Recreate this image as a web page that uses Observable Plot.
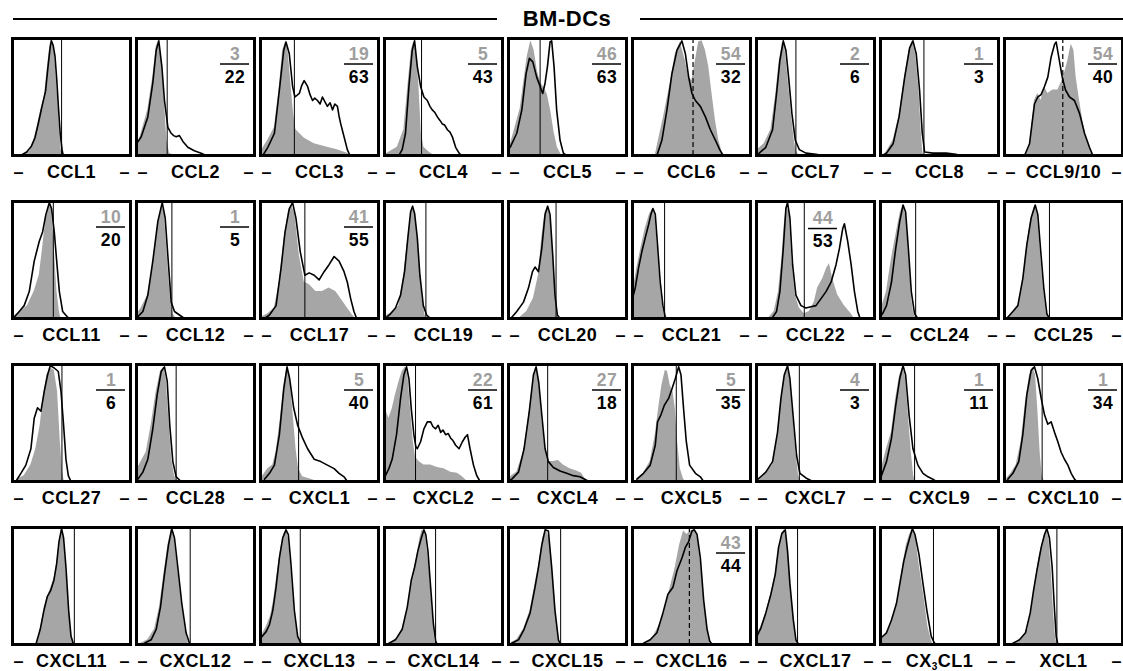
<!DOCTYPE html>
<html><head><meta charset="utf-8">
<script src="https://cdn.jsdelivr.net/npm/d3@7"></script>
<script src="https://cdn.jsdelivr.net/npm/@observablehq/plot@0.6"></script>
<style>
body{margin:0;background:#fff;font-family:"Liberation Sans",Arial,sans-serif;}
#wrap{position:relative;width:1123px;height:671px;overflow:hidden;background:#fff;}
.tl{position:absolute;top:18px;height:2px;background:#000;}
#ttext{position:absolute;top:8px;left:467px;width:200px;text-align:center;font-weight:bold;font-size:22px;line-height:22px;letter-spacing:0.5px;}
#chart{position:absolute;left:0;top:30px;}
</style></head>
<body>
<div id="wrap">
  <div class="tl" style="left:13px;width:484px"></div>
  <div id="ttext">BM-DCs</div>
  <div class="tl" style="left:640px;width:483px"></div>
  <div id="chart"></div>
</div>
<script>
const names = ["CCL1","CCL2","CCL3","CCL4","CCL5","CCL6","CCL7","CCL8","CCL9/10",
  "CCL11","CCL12","CCL17","CCL19","CCL20","CCL21","CCL22","CCL24","CCL25",
  "CCL27","CCL28","CXCL1","CXCL2","CXCL4","CXCL5","CXCL7","CXCL9","CXCL10",
  "CXCL11","CXCL12","CXCL13","CXCL14","CXCL15","CXCL16","CXCL17","CX3CL1","XCL1"];
const gates = [41.6,26,28.7,31.4,26.8,51.3,33.4,36.8,49.4,
  34.6,30,37.6,35.1,40.3,27.2,40.5,29.8,38.1,
  41.9,33.6,32.3,26.3,33.2,37.1,36.3,28.9,31.9,
  52.4,45.5,33.7,43.3,44.2,48.2,34.8,44.9,44.4];
const dashedGates = ["CCL6","CCL9/10","CXCL16"];
const fracTop = [null,3,19,5,46,54,2,1,54, 10,1,41,null,null,null,44,null,null,
  1,null,5,22,27,5,4,1,1, null,null,null,null,null,43,null,null,null];
const fracBottom = [null,22,63,43,63,32,6,3,40, 20,5,55,null,null,null,53,null,null,
  6,null,40,61,18,35,3,11,34, null,null,null,null,null,44,null,null,null];

// control histograms (grey fill): flat x,y pairs
const grayHist = [
 [10,0,15,4,18,13,21,25,24,39,27,50,29,70,31,88,32.5,99,34,96,35.5,88,37,68,38.5,45,40,22,41,8,42,0],
 [0,6,0.5,7,4,19,9.6,39,13.8,67,16.7,93,18.6,98,21,84,23.7,47,25.7,13,28,2,32,0],
 [0,3,0.6,4,6.2,13,11.8,24,16,59,18.8,90,21.6,98,23.6,87,25.8,61,28,36,30,22,32.9,19,37,15,45.5,10,56.7,7,65,5,73.6,2,76.4,0],
 [0,1,2.3,2,10.8,7,16.4,22,19.8,59,22.7,90,24.9,98,27.2,87,29.2,59,31.2,19,33.4,7,37.7,3,41.9,0],
 [0,5,0.8,7,4.2,19,9.9,40,13.2,65,16,85,18.9,98,21.7,90,24.5,72,27.3,62,30.1,58,33,52,35.8,38,38.6,20,41.4,7,45,0],
 [19.3,0,20.7,7,26.3,33,32,62,36.3,87,40.5,97,44.8,81,47.6,67,50.4,64,53.3,81,56.1,97,58.9,98,61.8,90,64.6,76,67.4,53,70.3,30,73.1,13,75.9,3,77.9,0],
 [0,4,0.8,5,6.5,10,12.2,22,16.4,53,19.3,81,22.1,97,24.1,92,26.3,70,29.2,39,32,13,34,3,36.3,0],
 [2,0,5,3,10.7,13,16.3,36,20.5,67,24.2,90,27,98,29.8,87,32.6,56,34.6,19,36,2,37.4,0],
 [17,0,21.2,7,25.4,47,28.2,53,31,47,33.9,59,36.7,53,41,56,45.2,56,48,62,50.8,70,53.7,81,56.5,95,58.8,90,60.7,67,63.6,47,66.4,30,69.2,16,72,7,74.9,0],
 [0,2,2.8,3,7.1,6,12.7,11,18.4,23,22.7,37,25.5,60,28.3,86,31.2,97,33.1,94,35.4,60,37.7,23,39.7,6,41.1,0],
 [0,3,0.6,4,4,9,9.6,20,13.8,46,18.1,80,21.5,97,23.7,89,26.6,46,28.8,17,30.8,4,33.6,0],
 [0.6,1,6.2,4,11.8,9,16,31,20.2,69,23.6,91,26.4,97,29.2,89,32.9,54,37.1,31,41.3,29,46.9,23,52.5,23,58.1,26,63.8,23,68,17,73.6,9,77.8,3,80.6,0],
 [0,1,2.3,3,7.9,6,12.2,11,16.4,37,19.8,69,22.7,91,24.9,94,27.2,80,29.2,51,32,17,34.3,3,36.3,0],
 [9.9,1,15.5,6,21.1,17,25.4,37,28.2,69,31,91,33.2,96,35.2,89,37.5,60,39.4,23,40.8,3,42.3,0],
 [0,20,0.8,26,3.7,43,7.1,60,10.8,77,14.4,89,17.3,94,19.3,86,21.2,60,23.5,29,25.8,9,27.8,1,29.2,0],
 [10.8,1,15,6,18.7,23,21.5,51,23.5,80,25.5,97,27.8,89,30,51,32.9,20,36.3,9,40.5,4,44.8,6,49,14,51.8,26,56.1,34,59.5,43,61.8,47,64.6,34,68.8,20,74.5,11,80.2,4,83,0],
 [0,5,0.8,9,5.1,23,9.3,51,13.5,74,16.9,91,19.7,97,21.9,86,24.2,51,26.1,20,28.1,4,30.3,0],
 [2.8,1,7.1,4,11.3,11,15.5,31,18.9,63,22.6,86,25.4,96,27.7,91,30.2,60,33,26,35.3,6,37.6,0],
 [4.2,2,9.9,5,15.6,14,19.8,28,23.5,48,26.3,74,29.2,91,32,97,35.4,95,38.2,77,40.5,34,42.5,8,43.9,0],
 [0,10,0.6,11,4,17,8.2,25,12.4,48,16.7,77,20.3,94,23.2,98,25.1,88,27.4,54,29.9,19,32.2,5,34.5,0],
 [0,4,2,5,6.2,11,10.4,14,13.2,25,16.9,54,19.7,82,22.5,97,24.7,91,27.2,63,30.1,28,32.3,11,35.7,4,42.7,2,48.3,0],
 [0,60,0.8,62,3.7,54,6.5,62,9.3,74,12.2,85,15,94,17.8,98,19.8,91,22.1,62,24.4,34,26.3,21,29.2,17,33.4,14,39.1,14,44.8,12,50.4,11,56.1,8,61.8,7,66,4,70.3,0],
 [0,2,1.4,4,7,8,12.7,25,16.9,54,20.3,82,23.1,98,25.4,88,28.2,54,31,28,33.8,17,38,17,42.3,18,46.5,14,52.1,11,57.7,9,62,7,66.2,0],
 [3.7,2,9.3,7,15,17,19.3,40,22.1,62,24.9,82,27.8,95,29.7,94,32,82,34.3,77,36.3,62,38.2,34,40.5,11,43.3,2,44.8,0],
 [0,1,2.3,2,7.9,7,13.6,14,17.8,40,20.7,68,23.5,88,26.3,98,28.3,88,30.6,59,33.4,25,35.7,5,37.7,0],
 [0,8,0.8,11,5.1,28,9.3,42,12.9,71,16.3,91,19.1,98,21.3,88,23.6,57,26.1,25,28.1,5,29.8,0],
 [1.4,2,5.6,7,9.9,14,14.1,34,17.8,68,21.2,91,24,98,26.3,91,28.2,62,30.2,25,31.9,5,33.9,0],
 [20.7,0,24.1,15,26.9,32,29.7,41,32.6,49,35.4,57,37.7,71,39.7,88,41.6,98,43.3,91,45.3,66,47.6,32,49.6,10,51.8,0],
 [0,0,4,1,9.6,4,15.3,13,19.5,32,23.2,60,26.6,85,29.4,98,31.6,94,34.5,69,37.9,38,41.2,13,44.1,1,45.8,0],
 [0,6,0.6,7,4.8,15,8.4,24,11.2,38,14,60,16.9,80,19.7,94,21.9,98,23.6,91,25.8,66,28.7,27,31.5,7,33.7,1,35.7,0],
 [5.1,1,10.8,6,16.4,15,20.7,38,24.4,60,27.2,74,30,91,32,98,34.8,94,37.7,66,40.5,29,42.5,4,43.6,0],
 [1.4,1,7,4,12.7,13,18.3,29,22.5,52,26.2,71,29,91,31.8,98,34.6,91,37.5,60,40.3,24,42.3,4,44.2,0],
 [12.2,1,17.8,7,23.5,18,27.8,32,32,49,36.3,66,39.9,85,43.3,97,46.2,94,49,97,52.4,98,55.2,91,58.1,66,61.2,32,63.7,10,66,0],
 [0,8,0.8,10,3.7,15,7.9,27,12.2,43,15.9,60,18.7,80,21.5,94,23.5,98,25.5,91,27.8,66,30.6,32,32.9,10,34.8,0],
 [0,3,0.8,4,5.1,10,9.3,18,13.5,32,16.3,49,19.1,69,21.9,85,24.7,94,27,98,29.8,91,33.1,66,36.8,41,40.2,15,43,4,44.4,0],
 [9.9,1,15.5,6,19.8,13,23.4,32,26.3,55,29.1,74,32.5,88,35.3,98,37.6,91,39.5,66,41.5,29,43.2,7,44.4,0]
];
// stimulated histograms (black line): flat x,y pairs
const blackHist = [
 [7,0,12,3,16,8,19,15,22,28,25,42,28,55,30,75,32,93,33,98,34.5,94,36,85,37.5,65,39,40,40.5,18,42,5,43,0],
 [0,10,4,16,9.6,33,13.8,62,16.7,90,18.9,98,21.5,76,23.7,47,26.6,24,29.4,19,31.5,17,33.6,16,36.4,17,39.3,12,43.5,7,49,4,54.8,2,59,0],
 [2,0,6.2,7,11.8,19,16,56,19.7,90,21.6,97,24.4,87,27.2,59,29.2,50,32.9,53,35,60,37,64,39.9,59,42,52,44.1,47,46,49,48.3,47,50.5,44,52.5,50,54.5,46,56.7,42,59,45,61,39,63,44,65.2,42,66.5,34,68,27,70.8,16,73.6,5,75.8,0],
 [12.2,0,15,5,17.8,19,20.7,59,23.5,90,25.5,98,27.8,76,30.6,59,33.4,50,36.3,47,38.5,42,40.5,39,42.5,37,44.8,33,47,30,49,27,51,26,53.3,22,55.5,20,57.5,16,60.3,7,63.2,2,65.2,0],
 [1.4,7,7,19,11.3,39,14.9,70,17.7,83,20.6,80,23.9,67,26.8,59,29,53,31,62,33,76,35.2,97,36.6,98,38.6,76,40.8,39,43.7,13,46.5,2,49.3,0],
 [20.7,0,24.9,13,29.2,39,33.4,70,37.7,90,41.9,98,44.8,87,47.6,67,50.4,53,53.3,47,57.5,42,61.8,33,66,22,70.3,13,73.9,5,76.8,0],
 [0,1,2.3,2,7.9,7,13.6,22,17,53,19.8,81,22.7,98,24.9,90,27.2,67,30,36,32.9,13,36.3,5,41.9,2,50.4,1,56.1,0],
 [2,0,5,2,10.7,10,15.7,33,20.5,67,24.7,92,27.5,98,30.3,87,33.1,56,35.4,19,37.4,3,44.4,2,55.6,2,64,1,66.9,0],
 [17,0,21.2,10,25.4,44,28.2,50,31,52,33.9,59,36.7,67,39.5,84,42.4,95,43.8,97,46,84,48.9,67,51.7,56,55.1,50,59.3,47,63.6,36,67.8,19,72,7,74.9,0],
 [1.4,1,5.7,6,9.9,11,14.2,23,18.4,49,22.7,66,25.5,74,28.3,89,31.2,99,33.1,94,35.4,74,37.7,46,39.7,23,42.5,6,46.7,1,49.6,0],
 [0.6,1,5.4,6,9.6,20,13.8,49,18.1,83,21.8,99,24.3,86,27.1,46,29.4,14,32.2,6,36.4,3,40.7,0],
 [3.4,0,7.6,3,13.2,11,17.4,43,20.8,74,24.4,94,27.2,99,30,86,33.7,57,37.6,37,41.3,39,45.5,37,49.7,33,53.9,40,58.1,46,62.4,53,66.6,49,70.8,40,73.6,31,76.4,17,79.2,6,81.5,0],
 [1.7,1,5.1,4,9.3,9,13.6,20,17,40,19.8,69,22.1,91,23.8,96,25.5,90,27.8,69,30,37,32.9,11,35.7,3,39.1,0],
 [2.8,1,7,6,12.7,14,16.9,26,20.3,40,22.5,44,25.4,40,28.2,60,31,89,33.2,96,35.2,89,37.5,54,39.4,20,41.4,3,43.7,0],
 [0,17,2.3,26,5.1,43,7.9,57,10.8,69,13.6,80,15.6,89,17.3,94,19.3,89,21.2,63,23.5,31,25.8,11,27.8,1,29.7,0],
 [13.6,1,17,6,19.8,23,22.7,60,24.9,94,26.3,99,28.3,86,30.6,46,33.4,20,37.7,11,41.9,9,46.2,10,50.4,11,54.7,17,58.9,23,63.2,31,67.4,46,70.3,60,73.1,77,74.5,81,77.3,66,80.2,46,83,23,85.8,6,87.8,0],
 [0,2,1.7,4,5.1,11,9.3,31,12.9,60,16.3,83,19.1,97,21.3,91,23.6,60,26.1,23,28.9,4,31.7,0],
 [2.8,1,7.1,6,11.3,11,15.5,34,18.9,63,22.6,86,26,97,28.2,89,30.5,60,33.3,26,35.9,4,38.1,0],
 [2.8,0,7.1,7,11.3,14,15.6,28,18.4,54,21.2,63,24.1,60,26.9,77,29.7,91,32,99,35.4,97,38.8,94,41.1,77,43.3,48,45.3,19,47.3,5,49.6,0],
 [1.1,2,5.4,8,9.6,19,13.8,45,17.5,74,20.9,94,23.7,98,26,86,28.2,48,30.8,17,33.6,4,37.9,0],
 [3.4,2,7.6,7,11.8,14,16,40,19.7,79,22.5,98,24.7,88,28.1,63,31.5,48,35.7,37,39.9,28,45.5,19,51.1,17,56.7,14,62.4,11,66.6,7,70.8,4,73.6,0],
 [0,3,0.8,5,3.7,11,6.5,19,10.2,40,13.6,71,16.4,91,18.7,98,20.7,88,22.7,62,24.9,40,26.5,30,27.8,28,30.6,34,33.4,45,36.3,51,39.1,51,41,47,43.3,45,45.5,48,47.6,42,49.5,44,51.8,40,54,41,56.1,37,58,35,60.3,31,63.2,28,66,34,68.5,38,70.3,40,72.5,28,75.4,14,78.2,5,81,0],
 [0,1,2.8,2,8.5,8,13.2,28,17.5,59,21.1,91,23.4,98,25.6,85,28.2,57,31,28,33.8,17,38,12,43.7,9,49.3,7,54.9,5,60.6,4,66.2,1,69,0],
 [3.7,2,9.3,7,15,14,19.3,31,21.2,51,24.1,57,26.9,65,30.6,71,33.4,79,36.3,88,39.1,98,41.1,91,43.3,62,45.6,34,48.4,14,53.3,7,57.5,4,60.3,0],
 [0,1,2.3,3,7.9,8,13.6,17,17.8,42,20.7,71,23.5,91,26.3,99,28.3,88,31.2,54,34,22,36.8,7,41.9,3,47.6,0],
 [0,3,0.8,5,5.1,17,9.3,37,12.9,65,16.3,88,19.1,99,21.3,91,24.2,57,27.5,28,31.7,14,36,7,40.2,4,44.4,2,47.2,0],
 [2.8,2,7.1,7,12.1,17,15.5,40,18.9,74,22.6,95,25.4,98,28.2,88,31.1,71,33.9,57,36.7,49,39.5,51,42.4,42,45.2,34,48,25,50.8,19,53.7,14,56.5,7,59.3,2,61.3,0],
 [19.8,0,23.5,13,26.6,29,29.5,41,32.3,46,35.1,55,37.4,69,39.4,88,41.6,99,43.3,91,45.3,66,47.6,29,49.6,7,51.8,0],
 [6.8,1,12.4,4,16.7,13,20.3,32,23.7,60,27.1,85,29.9,99,32.2,91,35,66,38.4,35,42,10,44.9,1,46.9,0],
 [0,5,0.6,6,4.8,11,7.6,17,10.4,29,13.2,49,16,74,18.8,91,21.6,98,23.6,94,25.8,69,28.7,29,31.5,7,34.3,1,37.1,0],
 [3.7,1,9.3,4,15,13,19.3,32,22.7,55,25.5,66,28.3,80,31.2,91,33.4,98,35,94,36.8,80,39.1,49,41.4,18,43.3,3,44.8,0],
 [2.8,1,8.5,4,13.2,13,18.3,27,22.5,49,25.4,66,28.2,85,31,98,33.8,97,36.6,66,39.4,29,42.3,4,44.2,0],
 [9.3,1,15,4,20.7,10,25.8,27,30,43,34.3,49,37.7,63,41.9,74,44.8,83,47.6,88,50.4,97,52.4,98,54.7,94,57.5,74,60.3,38,63.2,13,65.4,3,67.4,0],
 [0,6,0.8,8,3.7,14,7.9,27,12.2,43,15.9,60,18.7,83,21.5,95,24.4,98,26.3,80,28.3,52,31.2,21,33.4,4,35.7,0],
 [0,5,0.8,6,5.1,10,9.3,21,13.5,35,16.9,55,19.7,71,22.5,83,24.7,91,27,99,29.2,94,32.6,77,36,52,39.3,29,43,7,45.8,1,48.6,0],
 [7.1,1,12.7,4,17.8,10,21.8,27,24.6,46,27.4,63,31.1,83,33.9,94,35.9,99,38.1,91,40.4,66,42.4,29,43.8,7,45.2,0]
];

const NCOL = 9;
const panels = names.map((name, i) => ({
  name, i, col: i % NCOL, row: Math.floor(i / NCOL),
  gate: gates[i], dashed: dashedGates.includes(name),
  top: fracTop[i], bottom: fracBottom[i]
}));
function toPoints(hist) {
  return panels.flatMap(p => {
    const a = hist[p.i], out = [];
    for (let k = 0; k < a.length; k += 2) out.push({name: p.name, col: p.col, row: p.row, x: a[k], y: a[k + 1]});
    return out;
  });
}
const grayPts = toPoints(grayHist);
const blackPts = toPoints(blackHist);

// fraction layout (in panel units); CCL22's label sits mid-panel
const midFrac = ["CCL22"];
const fracs = panels.filter(p => p.top != null).map(p => {
  const mid = midFrac.includes(p.name);
  return {...p,
    x1: mid ? 44.1 : 71.2, x2: mid ? 68.6 : 95.8, xc: mid ? 56.4 : 83.5,
    yl: mid ? 76.9 : 78.2, yt: mid ? 85.8 : 86.8, yb: mid ? 65.8 : 66.5};
});

const GRAY = "#a6a6a6";
const font = {fontWeight: "bold", fontFamily: "Liberation Sans, Arial, sans-serif"};
const chart = Plot.plot({
  width: 1123, height: 641,
  marginLeft: 12, marginRight: 0, marginTop: 8, marginBottom: 26,
  x: {domain: [0, 100], axis: null},
  y: {domain: [0, 100], axis: null},
  fx: {axis: null, paddingInner: 0.048, paddingOuter: 0},
  fy: {axis: null, paddingInner: 0.281, paddingOuter: 0},
  marks: [
    Plot.areaY(grayPts, {x: "x", y: "y", z: "name", fx: "col", fy: "row", fill: GRAY, curve: "linear"}),
    Plot.lineY(blackPts, {x: "x", y: "y", z: "name", fx: "col", fy: "row", stroke: "black", strokeWidth: 1.6, curve: "linear"}),
    Plot.ruleX(panels.filter(p => !p.dashed), {x: "gate", fx: "col", fy: "row", stroke: "black", strokeWidth: 1}),
    Plot.ruleX(panels.filter(p => p.dashed), {x: "gate", fx: "col", fy: "row", stroke: "black", strokeWidth: 1.2, strokeDasharray: "5,3"}),
    Plot.ruleY(fracs, {y: "yl", x1: "x1", x2: "x2", fx: "col", fy: "row", stroke: "black", strokeWidth: 1.5}),
    Plot.text(fracs, {x: "xc", y: "yt", text: d => String(d.top), fx: "col", fy: "row", fill: "#9e9e9e", fontSize: 17.5, ...font}),
    Plot.text(fracs, {x: "xc", y: "yb", text: d => String(d.bottom), fx: "col", fy: "row", fill: "black", fontSize: 17.5, ...font}),
    Plot.frame({stroke: "black", strokeWidth: 3}),
    Plot.text(panels, {text: "name", fx: "col", fy: "row", frameAnchor: "bottom", dy: 17, lineAnchor: "middle", fill: "black", fontSize: 18, ...font}),
    Plot.text(panels, {text: () => "\u2013", fx: "col", fy: "row", frameAnchor: "bottom-left", textAnchor: "start", dx: 1, dy: 17, lineAnchor: "middle", fill: "black", fontSize: 18, ...font}),
    Plot.text(panels, {text: () => "\u2013", fx: "col", fy: "row", frameAnchor: "bottom-right", textAnchor: "end", dx: -1, dy: 17, lineAnchor: "middle", fill: "black", fontSize: 18, ...font})
  ]
});
const ns = "http://www.w3.org/2000/svg";
chart.querySelectorAll("text").forEach(t => {
  const txt = t.textContent;
  if (names.includes(txt)) t.setAttribute("letter-spacing", "0.5");
  if (/^\d+$/.test(txt)) t.setAttribute("letter-spacing", "0.5");
  if (txt === "CX3CL1") {
    while (t.firstChild) t.removeChild(t.firstChild);
    const a = document.createElementNS(ns, "tspan"); a.textContent = "CX";
    const b = document.createElementNS(ns, "tspan"); b.textContent = "3"; b.setAttribute("font-size", "10"); b.setAttribute("dy", "2.5");
    const c = document.createElementNS(ns, "tspan"); c.textContent = "CL1"; c.setAttribute("dy", "-2.5");
    t.append(a, b, c);
  }
});
document.getElementById("chart").appendChild(chart);
</script>
</body></html>
